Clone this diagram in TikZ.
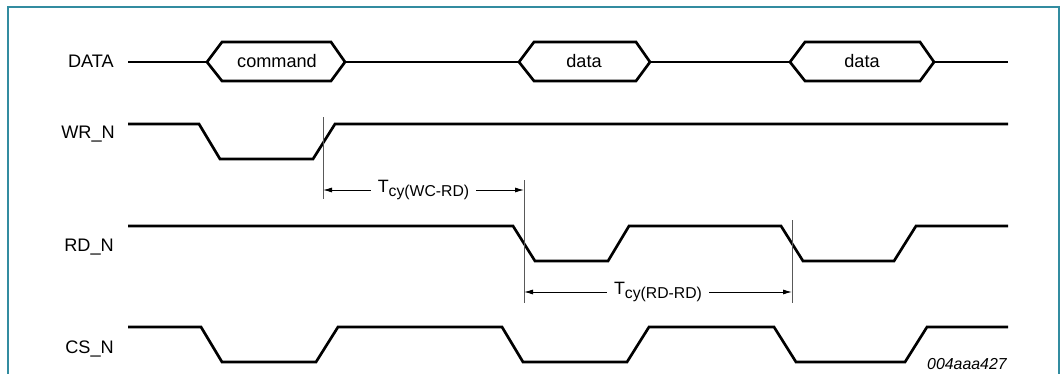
\documentclass[tikz,border=0pt]{standalone}
\usepackage{fontspec}
\setmainfont{Liberation Sans}
\usetikzlibrary{arrows.meta}
\definecolor{framecol}{RGB}{50,140,160}
\newcommand{\tsub}[2]{#1\raisebox{-3.3pt}{\fontsize{11.2}{12}\selectfont #2}}

\begin{document}
\begin{tikzpicture}
  [x=0.025cm, y=-0.025cm,
   sig/.style={line width=1.9pt},
   marker/.style={draw=black!65, line width=0.7pt},
   dim/.style={{Latex[length=6.4pt,width=3.6pt]}-{Latex[length=6.4pt,width=3.6pt]}, line width=0.6pt},
   lbl/.style={anchor=base east, inner sep=0pt, font=\fontsize{12.9}{15}\selectfont},
   busval/.style={anchor=base, font=\fontsize{12.9}{15}\selectfont},
   tlbl/.style={midway, fill=white, inner xsep=5pt, inner ysep=1pt, font=\fontsize{12.7}{15}\selectfont}]
  \useasboundingbox (0,0) rectangle (1063,374);
  \draw[draw=framecol, line width=1.4pt] (8,374) -- (8,7) -- (1059,7) -- (1059,374);

  % signal names
  \node[lbl] (data) at (114,68) {DATA};
  \node[lbl] (wr) at (115,138) {WR\_N};
  \node[lbl] (rd) at (114,251) {RD\_N};
  \node[lbl] (cs) at (114,353) {CS\_N};

  % DATA bus
  \foreach \a/\b in {207/345, 519/650, 790/934}
    \draw[sig] (\a,62) -- (\a+15,42) -- (\b-14,42) -- (\b,62) -- (\b-14,81) -- (\a+15,81) -- cycle;
  \foreach \a/\b in {128/207, 345/519, 650/790, 934/1008}
    \draw[sig] (\a,62) -- (\b,62);
  \node[busval] (cmd) at (277,68) {command};
  \node[busval] (d1) at (584,68) {data};
  \node[busval] (d2) at (862,68) {data};

  % WR_N, RD_N, CS_N
  \draw[sig] (128,124) -- (199,124) -- (220,159) -- (313,159) -- (335,124) -- (1008,124);
  \draw[sig] (128,226) -- (513,226) -- (535,261) -- (608,261) -- (629,226)
    -- (781,226) -- (803,261) -- (894,261) -- (916,226) -- (1008,226);
  \draw[sig] (128,327) -- (201,327) -- (222,362) -- (316,362) -- (338,327)
    -- (502,327) -- (523,362) -- (627,362) -- (649,327)
    -- (774,327) -- (796,362) -- (905,362) -- (927,327) -- (1008,327);

  % timing
  \draw[marker] (323,117) -- (323,199);
  \draw[marker] (524,180) -- (524,303);
  \draw[marker] (792,220) -- (792,303);
  \coordinate (wc1) at (323,190);
  \coordinate (wc2) at (524,190);
  \coordinate (rr1) at (524,292);
  \coordinate (rr2) at (792,292);
  \draw[dim] (wc1) -- (wc2) node[tlbl] (twc) {\tsub{T}{cy(WC-RD)}};
  \draw[dim] (rr1) -- (rr2) node[tlbl] (trr) {\tsub{T}{cy(RD-RD)}};

  \node[anchor=base east, inner sep=0pt, font=\itshape\fontsize{11.3}{13}\selectfont] (ref) at (1007,369) {004aaa427};
\end{tikzpicture}
\end{document}
